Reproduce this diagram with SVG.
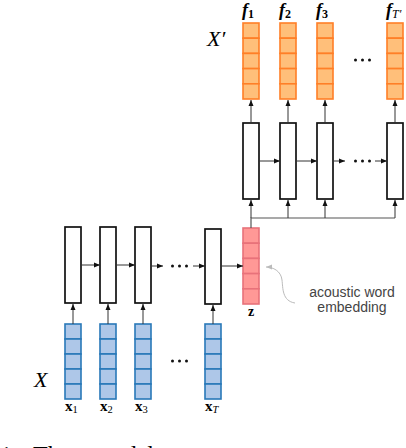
<svg xmlns="http://www.w3.org/2000/svg" width="406" height="448" viewBox="0 0 406 448">
<defs>
<marker id="ah" viewBox="0 0 6 6" refX="6" refY="3" markerWidth="6" markerHeight="6" markerUnits="userSpaceOnUse" orient="auto">
<path d="M0,0.5 L6,3 L0,5.5 z" fill="#111"/>
</marker>
<marker id="ahg" viewBox="0 0 6 6" refX="6" refY="3" markerWidth="6" markerHeight="6" markerUnits="userSpaceOnUse" orient="auto">
<path d="M0,0.5 L6,3 L0,5.5 z" fill="#bbb"/>
</marker>
<style>
.box{fill:#fff;stroke:#111;stroke-width:1.7}
.oc{fill:#ffbf7a;stroke:#ff7f27;stroke-width:1.6}
.bc{fill:#aec7e8;stroke:#2878b8;stroke-width:1.6}
.rc{fill:#ff9896;stroke:#e8727a;stroke-width:1.6}
.ar{stroke:#333;stroke-width:1;fill:none;marker-end:url(#ah)}
.ln{stroke:#555;stroke-width:1.2;fill:none}
.math{font-family:"Liberation Serif","DejaVu Serif",serif;fill:#000}
.sans{font-family:"Liberation Sans","DejaVu Sans",sans-serif;fill:#444;font-size:14px}
.dot{fill:#111}
</style>
</defs>

<g id="output-vectors">
<g id="f1">
<rect class="oc" x="243" y="23" width="16" height="15.2"/><rect class="oc" x="243" y="38.2" width="16" height="15.2"/><rect class="oc" x="243" y="53.4" width="16" height="15.2"/><rect class="oc" x="243" y="68.6" width="16" height="15.2"/><rect class="oc" x="243" y="83.8" width="16" height="15.2"/>
</g>
<g id="f2">
<rect class="oc" x="280" y="23" width="16" height="15.2"/><rect class="oc" x="280" y="38.2" width="16" height="15.2"/><rect class="oc" x="280" y="53.4" width="16" height="15.2"/><rect class="oc" x="280" y="68.6" width="16" height="15.2"/><rect class="oc" x="280" y="83.8" width="16" height="15.2"/>
</g>
<g id="f3">
<rect class="oc" x="317" y="23" width="16" height="15.2"/><rect class="oc" x="317" y="38.2" width="16" height="15.2"/><rect class="oc" x="317" y="53.4" width="16" height="15.2"/><rect class="oc" x="317" y="68.6" width="16" height="15.2"/><rect class="oc" x="317" y="83.8" width="16" height="15.2"/>
</g>
<g id="fT">
<rect class="oc" x="387" y="23" width="16" height="15.2"/><rect class="oc" x="387" y="38.2" width="16" height="15.2"/><rect class="oc" x="387" y="53.4" width="16" height="15.2"/><rect class="oc" x="387" y="68.6" width="16" height="15.2"/><rect class="oc" x="387" y="83.8" width="16" height="15.2"/>
</g>
</g>

<g id="decoder">
<rect id="dec1" class="box" x="243" y="123" width="16" height="76"/>
<rect id="dec2" class="box" x="280" y="123" width="16" height="76"/>
<rect id="dec3" class="box" x="317" y="123" width="16" height="76"/>
<rect id="dec4" class="box" x="387" y="123" width="16" height="76"/>
</g>

<g id="encoder">
<rect id="enc1" class="box" x="65" y="227" width="16" height="76"/>
<rect id="enc2" class="box" x="100" y="227" width="16" height="76"/>
<rect id="enc3" class="box" x="135" y="227" width="16" height="76"/>
<rect id="enc4" class="box" x="205" y="229" width="16" height="75"/>
</g>

<g id="z">
<rect class="rc" x="243" y="228" width="16" height="15.2"/><rect class="rc" x="243" y="243.2" width="16" height="15.2"/><rect class="rc" x="243" y="258.4" width="16" height="15.2"/><rect class="rc" x="243" y="273.6" width="16" height="15.2"/><rect class="rc" x="243" y="288.8" width="16" height="15.2"/>
</g>

<g id="input-vectors">
<g id="x1">
<rect class="bc" x="65" y="324" width="16" height="15"/><rect class="bc" x="65" y="339" width="16" height="15"/><rect class="bc" x="65" y="354" width="16" height="15"/><rect class="bc" x="65" y="369" width="16" height="15"/><rect class="bc" x="65" y="384" width="16" height="15"/>
</g>
<g id="x2">
<rect class="bc" x="100" y="324" width="16" height="15"/><rect class="bc" x="100" y="339" width="16" height="15"/><rect class="bc" x="100" y="354" width="16" height="15"/><rect class="bc" x="100" y="369" width="16" height="15"/><rect class="bc" x="100" y="384" width="16" height="15"/>
</g>
<g id="x3">
<rect class="bc" x="135" y="324" width="16" height="15"/><rect class="bc" x="135" y="339" width="16" height="15"/><rect class="bc" x="135" y="354" width="16" height="15"/><rect class="bc" x="135" y="369" width="16" height="15"/><rect class="bc" x="135" y="384" width="16" height="15"/>
</g>
<g id="xT">
<rect class="bc" x="205" y="324" width="16" height="15"/><rect class="bc" x="205" y="339" width="16" height="15"/><rect class="bc" x="205" y="354" width="16" height="15"/><rect class="bc" x="205" y="369" width="16" height="15"/><rect class="bc" x="205" y="384" width="16" height="15"/>
</g>
</g>

<g id="connectors">
<line class="ar" x1="73" y1="324" x2="73" y2="304"/>
<line class="ar" x1="108" y1="324" x2="108" y2="304"/>
<line class="ar" x1="143" y1="324" x2="143" y2="304"/>
<line class="ar" x1="213" y1="324" x2="213" y2="305"/>
<line class="ar" x1="81" y1="265" x2="100" y2="265"/>
<line class="ar" x1="116" y1="265" x2="135" y2="265"/>
<line class="ar" x1="151" y1="266" x2="163" y2="266"/>
<line class="ar" x1="193" y1="266" x2="205" y2="266"/>
<line class="ar" x1="221" y1="266" x2="243" y2="266"/>
<path class="ln" d="M251 228 V218 H395"/>
<line class="ar" x1="251" y1="218" x2="251" y2="200"/>
<line class="ar" x1="288" y1="218" x2="288" y2="200"/>
<line class="ar" x1="325" y1="218" x2="325" y2="200"/>
<line class="ar" x1="395" y1="218" x2="395" y2="200"/>
<line class="ar" x1="259" y1="161" x2="280" y2="161"/>
<line class="ar" x1="296" y1="161" x2="317" y2="161"/>
<line class="ar" x1="333" y1="161" x2="345" y2="161"/>
<line class="ar" x1="375" y1="161" x2="387" y2="161"/>
<line class="ar" x1="251" y1="123" x2="251" y2="100"/>
<line class="ar" x1="288" y1="123" x2="288" y2="100"/>
<line class="ar" x1="325" y1="123" x2="325" y2="100"/>
<line class="ar" x1="395" y1="123" x2="395" y2="100"/>
<path d="M295 303 C282 301 283 288 282 280 C281 271 273 267 266 267" fill="none" stroke="#bbb" stroke-width="1" marker-end="url(#ahg)"/>
</g>

<g id="dots">
<circle class="dot" cx="355.5" cy="60" r="1.5"/><circle class="dot" cx="362.5" cy="60" r="1.5"/><circle class="dot" cx="369.5" cy="60" r="1.5"/>
<circle class="dot" cx="355.5" cy="161" r="1.5"/><circle class="dot" cx="362.5" cy="161" r="1.5"/><circle class="dot" cx="369.5" cy="161" r="1.5"/>
<circle class="dot" cx="172.5" cy="266" r="1.5"/><circle class="dot" cx="179.5" cy="266" r="1.5"/><circle class="dot" cx="186.5" cy="266" r="1.5"/>
<circle class="dot" cx="172.5" cy="361" r="1.5"/><circle class="dot" cx="179.5" cy="361" r="1.5"/><circle class="dot" cx="186.5" cy="361" r="1.5"/>
</g>

<g id="labels">
<text class="math" x="242" y="16" font-size="18" font-weight="bold" font-style="italic">f<tspan font-size="12" font-style="normal" dy="1.5">1</tspan></text>
<text class="math" x="279" y="16" font-size="18" font-weight="bold" font-style="italic">f<tspan font-size="12" font-style="normal" dy="1.5">2</tspan></text>
<text class="math" x="316" y="16" font-size="18" font-weight="bold" font-style="italic">f<tspan font-size="12" font-style="normal" dy="1.5">3</tspan></text>
<text class="math" x="386" y="16" font-size="18" font-weight="bold" font-style="italic">f<tspan font-size="12" font-weight="normal" dy="1.5">T′</tspan></text>
<text class="math" x="207" y="46" font-size="22" font-style="italic">X′</text>
<text class="math" x="34" y="387" font-size="22" font-style="italic">X</text>
<text class="math" x="65" y="411" font-size="15" font-weight="bold">x<tspan font-size="10.5" font-weight="normal" dy="2">1</tspan></text>
<text class="math" x="100" y="411" font-size="15" font-weight="bold">x<tspan font-size="10.5" font-weight="normal" dy="2">2</tspan></text>
<text class="math" x="135" y="411" font-size="15" font-weight="bold">x<tspan font-size="10.5" font-weight="normal" dy="2">3</tspan></text>
<text class="math" x="205" y="411" font-size="15" font-weight="bold">x<tspan font-size="10.5" font-style="italic" font-weight="normal" dy="2">T</tspan></text>
<text class="math" x="251" y="316" font-size="14" font-weight="bold" text-anchor="middle">z</text>
<text class="sans" x="352" y="297" text-anchor="middle">acoustic word</text>
<text class="sans" x="352" y="312" text-anchor="middle">embedding</text>
<text class="math" x="0" y="462" font-size="24">1: <tspan x="33">The</tspan> <tspan x="94">model</tspan></text>
</g>
</svg>
